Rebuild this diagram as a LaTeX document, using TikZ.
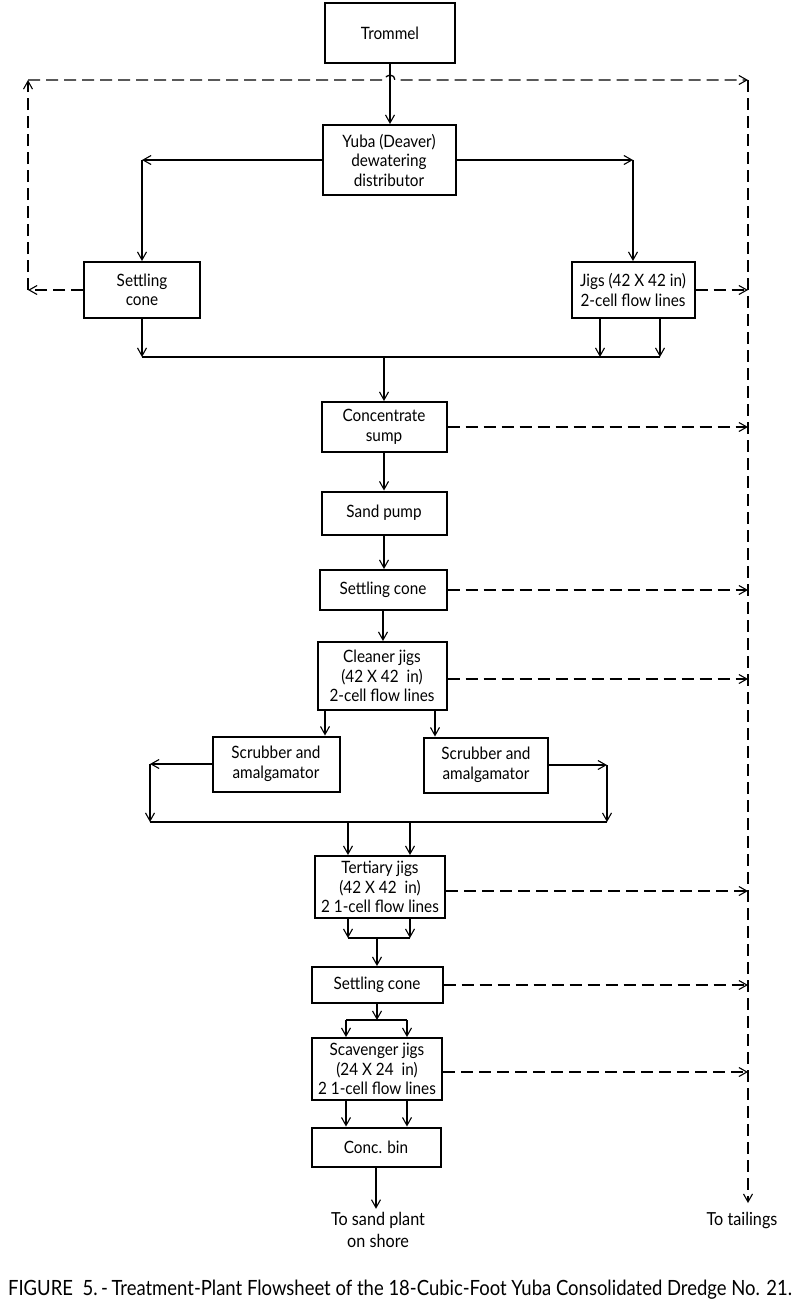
\documentclass[tikz,border=0pt]{standalone}
\usepackage{fontspec}
\setmainfont{Lato}[FakeStretch=0.9]
\newfontfamily\capfont{Lato}[FakeStretch=0.88]
\usetikzlibrary{arrows.meta,calc}
\begin{document}
\begin{tikzpicture}[x=1pt,y=-1pt,
  box/.style={draw,line width=2pt,align=center,inner sep=1pt,font=\fontsize{17}{19.5}\selectfont},
  arr/.style={line width=1.1pt,-{Straight Barb[length=8pt,width=9pt,line width=1.1pt]}},
  ln/.style={line width=1.1pt},
  dsh/.style={line width=1.3pt,dash pattern=on 12pt off 6pt},
  darr/.style={dsh,-{Straight Barb[length=8pt,width=9pt,line width=1.1pt]}},
  lbl/.style={align=center,font=\fontsize{18}{22}\selectfont}]
\useasboundingbox (0,0) rectangle (800,1312);
% nodes
\node[box,minimum width=130,minimum height=60] (trommel) at (390,33) {Trommel};
\node[box,minimum width=133,minimum height=70] (yuba) at (389,160) {Yuba (Deaver)\\dewatering\\distributor};
\node[box,minimum width=116,minimum height=56] (settle1) at (142,290) {Settling\\cone};
\node[box,minimum width=123,minimum height=56] (jigs1) at (633,290) {Jigs (42 X 42 in)\\2-cell flow lines};
\node[box,minimum width=125,minimum height=50] (sump) at (384,427) {Concentrate\\sump};
\node[box,minimum width=125,minimum height=43] (pump) at (384,513) {Sand pump};
\node[box,minimum width=127,minimum height=40] (settle2) at (383,590) {Settling cone};
\node[box,minimum width=129,minimum height=68] (cleaner) at (382,676) {Cleaner jigs\\(42 X 42 \ in)\\2-cell flow lines};
\node[box,minimum width=127,minimum height=55] (scrubL) at (276,764) {Scrubber and\\amalgamator};
\node[box,minimum width=124,minimum height=55] (scrubR) at (486,765) {Scrubber and\\amalgamator};
\node[box,minimum width=130,minimum height=62] (tertiary) at (380,887) {Tertiary jigs\\(42 X 42 \ in)\\2 1-cell flow lines};
\node[box,minimum width=131,minimum height=36] (settle3) at (377,985) {Settling cone};
\node[box,minimum width=130,minimum height=62] (scav) at (377,1069) {Scavenger jigs\\(24 X 24 \ in)\\2 1-cell flow lines};
\node[box,minimum width=129,minimum height=39] (bin) at (376,1147) {Conc. bin};
\node[lbl] (sand) at (378,1230) {To sand plant\\on shore};
\node[lbl] (tail) at (742,1220) {To tailings};
\node[font=\capfont\fontsize{21}{24}\selectfont] (cap) at (400,1290) {FIGURE \ 5.\,-\,Treatment-Plant Flowsheet of the 18-Cubic-Foot Yuba Consolidated Dredge No. 21.};
% coordinates
\coordinate (L0) at (28,80);
\coordinate (L1) at (28,290);
\coordinate (R0) at (748,80);
\coordinate (Rb) at (748,1203);
\coordinate (j1) at (142,357);
\coordinate (j2) at (660,357);
\coordinate (s1) at (150,822);
\coordinate (s2) at (607,822);
% top part
\draw[arr] (trommel.south) -- (trommel.south |- yuba.north);
\draw[darr] (settle1.west) -- (L1);
\draw[darr] (L1) -- (L0);
\draw[darr] (L0) -- ($(trommel.south |- L0)+(-5,0)$) arc[start angle=180,end angle=360,radius=5] -- (R0);
\draw[darr] (R0) -- (Rb);
\draw[darr] (jigs1.east) -- (jigs1.east -| R0);
\draw[arr] (yuba.west) -- (yuba.west -| settle1.north);
\draw[arr] (yuba.west -| settle1.north) -- (settle1.north);
\draw[arr] (yuba.east) -- (yuba.east -| jigs1.north);
\draw[arr] (yuba.east -| jigs1.north) -- (jigs1.north);
\draw[arr] (settle1.south) -- (j1);
\draw[arr] ([xshift=-33]jigs1.south) -- ([xshift=-33]jigs1.south |- j1);
\draw[arr] ([xshift=27]jigs1.south) -- (j2);
\draw[ln] (j1) -- (j2);
\draw[arr] (j1 -| sump.north) -- (sump.north);
% middle
\draw[darr] (sump.east) -- (sump.east -| R0);
\draw[arr] (sump.south) -- (pump.north);
\draw[arr] (pump.south) -- (pump.south |- settle2.north);
\draw[darr] (settle2.east) -- (settle2.east -| R0);
\draw[arr] (settle2.south) -- (settle2.south |- cleaner.north);
\draw[darr] ([yshift=-3]cleaner.east) -- ([yshift=-3]cleaner.east -| R0);
\draw[arr] ([xshift=-57]cleaner.south) -- ([xshift=-57]cleaner.south |- scrubL.north);
\draw[arr] ([xshift=53]cleaner.south) -- ([xshift=53]cleaner.south |- scrubR.north);
\draw[arr] (scrubL.west) -- (scrubL.west -| s1);
\draw[arr] (scrubL.west -| s1) -- (s1);
\draw[arr] (scrubR.east) -- (scrubR.east -| s2);
\draw[arr] (scrubR.east -| s2) -- (s2);
\draw[ln] (s1) -- (s2);
\draw[arr] ([xshift=-32]tertiary.north |- s1) -- ([xshift=-32]tertiary.north);
\draw[arr] ([xshift=30]tertiary.north |- s1) -- ([xshift=30]tertiary.north);
% lower
\draw[darr] ([yshift=-4]tertiary.east) -- ([yshift=-4]tertiary.east -| R0);
\coordinate (t1) at (348,938);
\coordinate (t2) at (410,938);
\draw[arr] (tertiary.south -| t1) -- (t1);
\draw[arr] (tertiary.south -| t2) -- (t2);
\draw[ln] (t1) -- (t2);
\draw[arr] (t1 -| settle3.north) -- (settle3.north);
\draw[darr] (settle3.east) -- (settle3.east -| R0);
\coordinate (u1) at (346,1020);
\coordinate (u2) at (407,1020);
\draw[arr] (settle3.south) -- (settle3.south |- u1);
\draw[ln] (u1) -- (u2);
\draw[arr] (u1) -- (u1 |- scav.north);
\draw[arr] (u2) -- (u2 |- scav.north);
\draw[darr] ([yshift=-3]scav.east) -- ([yshift=-3]scav.east -| R0);
\draw[arr] (scav.south -| u1) -- (bin.north -| u1);
\draw[arr] (scav.south -| u2) -- (bin.north -| u2);
\draw[arr] (bin.south) -- (bin.south |- sand.north);
\end{tikzpicture}
\end{document}
